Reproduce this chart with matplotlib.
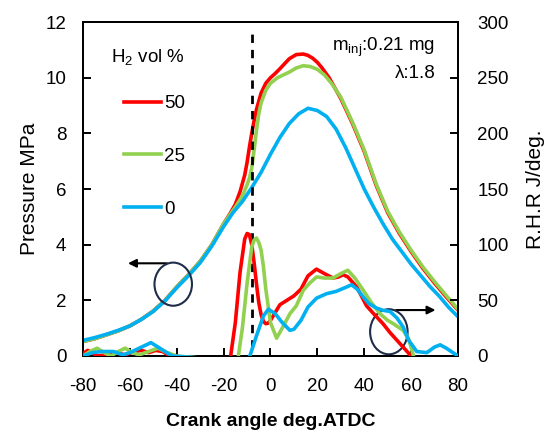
import matplotlib
matplotlib.use('Agg')
import matplotlib.pyplot as plt
from matplotlib.patches import Ellipse
from matplotlib.lines import Line2D

plt.rcParams['font.family'] = ['Liberation Sans', 'DejaVu Sans']
plt.rcParams['mathtext.fontset'] = 'custom'
plt.rcParams['mathtext.rm'] = 'Liberation Sans'
plt.rcParams['mathtext.it'] = 'Liberation Sans:italic'
plt.rcParams['axes.unicode_minus'] = False
plt.rcParams['font.size'] = 13.5

# cylinder pressure, MPa
p_deg_50 = [-80, -75, -70, -65, -60, -55, -50, -45, -40, -35, -30, -25, -20, -17, -15, -13, -11, -10, -9, -8, -7, -6, -4, -2, 0, 2, 4, 6, 8, 11, 14, 16, 18, 20, 22, 25, 30, 35, 40, 45, 50, 55, 60, 65, 70, 75, 80]
p_50 = [0.52, 0.62, 0.76, 0.9, 1.08, 1.32, 1.62, 2.0, 2.48, 2.92, 3.4, 4.0, 4.75, 5.15, 5.45, 5.9, 6.5, 6.95, 7.5, 8.0, 8.45, 8.85, 9.45, 9.8, 10.0, 10.15, 10.32, 10.5, 10.68, 10.83, 10.85, 10.8, 10.7, 10.55, 10.35, 10.0, 9.25, 8.35, 7.35, 6.15, 5.15, 4.4, 3.75, 3.15, 2.62, 2.12, 1.65]
p_deg_25 = [-80, -75, -70, -65, -60, -55, -50, -45, -40, -35, -30, -25, -20, -15, -12, -10, -9, -8, -7, -6, -5, -4, -2, 0, 3, 8, 11, 14, 17, 20, 23, 26, 30, 35, 40, 45, 50, 55, 60, 65, 70, 75, 80]
p_25 = [0.52, 0.62, 0.76, 0.9, 1.08, 1.32, 1.62, 2.0, 2.48, 2.92, 3.4, 4.0, 4.75, 5.35, 5.75, 6.15, 6.4, 6.75, 7.4, 8.1, 8.7, 9.1, 9.55, 9.8, 10.0, 10.2, 10.35, 10.43, 10.4, 10.3, 10.1, 9.8, 9.3, 8.4, 7.4, 6.2, 5.2, 4.45, 3.8, 3.2, 2.67, 2.17, 1.68]
p_deg_0 = [-80, -75, -70, -65, -60, -55, -50, -45, -40, -35, -30, -25, -20, -16, -12, -8, -4, 0, 4, 8, 12, 16, 20, 24, 28, 32, 36, 40, 44, 48, 52, 56, 60, 64, 68, 72, 76, 80]
p_0 = [0.56, 0.66, 0.78, 0.92, 1.08, 1.32, 1.6, 1.98, 2.45, 2.88, 3.35, 3.95, 4.65, 5.15, 5.55, 6.05, 6.6, 7.25, 7.85, 8.35, 8.7, 8.9, 8.82, 8.6, 8.15, 7.5, 6.75, 6.0, 5.35, 4.75, 4.2, 3.75, 3.3, 2.9, 2.5, 2.15, 1.75, 1.41]

# rate of heat release, J/deg
r_deg_50 = [-80, -78, -76, -74, -70, -66, -62, -58, -55, -52, -49, -46, -43, -18, -17, -15, -13, -11, -10, -9, -8, -7, -6, -5, -4, -3, -2, -1, 0, 2, 4, 7, 10, 13, 16, 19.6, 23, 26.7, 29, 31, 33, 36.8, 41, 44, 48, 51, 54, 57, 60, 61]
r_50 = [2, 5, 3, 0, 1, 3, 1, 4, 5, 3, 5, 4, 0, -5, 0, 30, 75, 105, 110, 109, 100, 84, 65, 48, 37, 31, 29, 29.5, 32, 39, 46, 50, 54, 60, 72, 78, 74, 70, 71, 73, 71, 62, 45, 38, 29, 21, 14, 7, 0, -5]
r_deg_25 = [-80, -77, -74, -71, -68, -65, -62, -59, -56, -52, -48, -44, -40, -14, -13.7, -12, -10, -8, -7, -6, -5, -4, -3, -2, 0, 2.6, 5, 8.3, 11, 14, 17, 19.7, 23, 26.7, 30, 33, 36, 39.6, 43, 46.7, 50, 52.4, 56.6, 59, 61, 62]
r_25 = [0, 4, 7, 3, 0, 4, 7, 3, 1, 4, 7, 3, 0, -5, 0, 25, 65, 98, 104, 106, 102, 95, 80, 60, 30, 16, 25, 38, 45, 59, 66, 71, 70, 70, 74, 77, 70, 59, 48, 38, 32, 29, 23, 15, 0, -5]
r_deg_0 = [-80, -76, -72, -67, -63, -60, -57, -54, -51, -48, -45, -42, -9, -8.8, -6, -3, -0.9, 2, 5, 8.3, 10, 13, 16, 19.7, 24, 28, 32.5, 34.6, 37, 39.6, 42, 45.3, 48, 51, 54, 56.6, 59, 62.4, 66.7, 70, 72.4, 75, 80]
r_0 = [0, 3, 4, 4, 1, 3, 6, 9, 12, 8, 4, 0, -5, 0, 18, 36, 42, 38, 30, 23, 24, 32, 44, 52, 56, 58, 62, 64, 60, 53, 47, 43, 41, 40, 34, 26, 14, 4, 3, 8, 10, 7, 0]

h2_labels = ['50', '25', '0']
colors = ['#ff0000', '#92d050', '#00b0f0']
injection_deg = -8

fig = plt.figure(figsize=(5.54, 4.32), dpi=100)
ax = fig.add_axes([0.1498, 0.176, 0.6769, 0.773])
ax2 = ax.twinx()

lw = 2.6
for xs, ys, c in zip([p_deg_50, p_deg_25, p_deg_0], [p_50, p_25, p_0], colors):
    ax.plot(xs, ys, color=c, lw=lw, solid_capstyle='round', solid_joinstyle='round', zorder=3)
for xs, ys, c in zip([r_deg_50, r_deg_25, r_deg_0], [r_50, r_25, r_0], colors):
    ax2.plot(xs, ys, color=c, lw=lw, solid_capstyle='round', solid_joinstyle='round', zorder=3)

ax.plot([injection_deg, injection_deg], [0.3, 11.7], color='black', lw=2, ls=(0, (3, 2.5)), zorder=4)

ax.set_xlim(-80, 80)
ax.set_ylim(0, 12)
ax2.set_ylim(0, 300)
ax.set_xticks(range(-80, 81, 20))
ax.set_yticks(range(0, 13, 2))
ax2.set_yticks(range(0, 301, 50))

for a in (ax, ax2):
    for s in a.spines.values():
        s.set_linewidth(1.4)
ax.tick_params(axis='both', direction='in', length=6, width=1.4)
ax.tick_params(axis='y', pad=12)
ax.tick_params(axis='x', pad=16)
ax2.tick_params(axis='y', direction='in', length=6, width=1.4, pad=14)

ax.set_ylabel('Pressure MPa', fontsize=15, labelpad=5)
ax2.set_ylabel('R.H.R J/deg.', fontsize=15, labelpad=12)
ax.set_xlabel('Crank angle deg.ATDC', fontweight='bold', fontsize=14, labelpad=13)

# arrows pointing at the axis each curve group belongs to
ax.add_patch(Ellipse((-41.5, 2.58), 16, 1.55, fill=False, ec='#1f2d4a', lw=1.5, zorder=5))
ax.annotate('', xy=(-62, 3.33), xytext=(-43, 3.33),
            arrowprops=dict(arrowstyle='-|>', color='black', lw=1.5, mutation_scale=12))
ax.add_patch(Ellipse((50.5, 0.87), 16, 1.62, fill=False, ec='#1f2d4a', lw=1.5, zorder=5))
ax.annotate('', xy=(71.6, 1.65), xytext=(52.4, 1.65),
            arrowprops=dict(arrowstyle='-|>', color='black', lw=1.5, mutation_scale=12))

ax.text(0.94, 0.925, 'm$_{\\mathrm{inj}}$:0.21 mg', transform=ax.transAxes, ha='right', va='center')
ax.text(0.94, 0.845, 'λ:1.8', transform=ax.transAxes, ha='right', va='center')

handles = [Line2D([], [], color=c, lw=lw) for c in colors]
leg = ax.legend(handles, h2_labels, title='H$_2$ vol %', loc='upper left',
                bbox_to_anchor=(0.03, 0.975), frameon=False, handlelength=2.0,
                handletextpad=0.15, labelspacing=1.9, title_fontsize=13.5,
                alignment='right')
leg._legend_box.sep = 20

fig.savefig('out.png', dpi=100)
